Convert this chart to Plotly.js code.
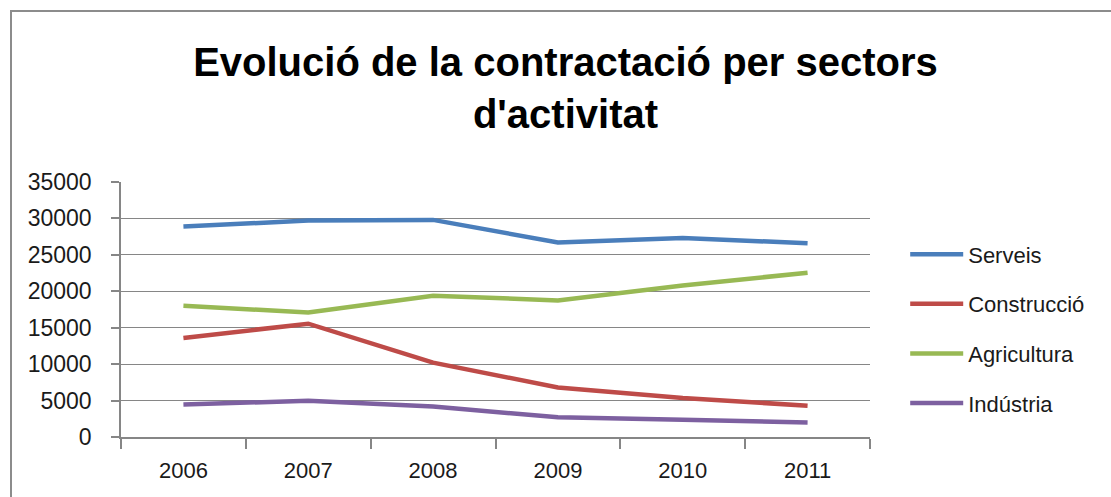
<!DOCTYPE html>
<html>
<head>
<meta charset="utf-8">
<script src="https://cdn.plot.ly/plotly-3.0.1.min.js"></script>
<style>
  html, body { margin: 0; padding: 0; background: #fff; }
  #wrap { position: relative; width: 1111px; height: 497px; overflow: hidden; }
  #chart { position: absolute; left: 0; top: 0; width: 1111px; height: 497px; }
  #frame { position: absolute; left: 10px; top: 10px; width: 1200px; height: 600px;
           border-top: 2.5px solid #8c8c8c; border-left: 2.5px solid #8c8c8c; pointer-events: none; }
</style>
</head>
<body>
<div id="wrap">
  <div id="chart"></div>
  <div id="frame"></div>
</div>
<script>
const years = ['2006', '2007', '2008', '2009', '2010', '2011'];
const serveis = [28900, 29700, 29800, 26700, 27300, 26600];
const construccio = [13600, 15550, 10200, 6800, 5350, 4300];
const agricultura = [18000, 17100, 19400, 18750, 20800, 22550];
const industria = [4450, 4980, 4200, 2700, 2370, 2000];

const seriesNames = ['Serveis', 'Construcció', 'Agricultura', 'Indústria'];
const seriesValues = [serveis, construccio, agricultura, industria];
const seriesColors = ['#4a7ebb', '#be4b48', '#98b954', '#7d60a0'];

const FONT = 'Liberation Sans, Arial, sans-serif';

const traces = seriesNames.map((name, i) => ({
  type: 'scatter',
  mode: 'lines',
  name: name,
  legendgroup: 'g' + i,
  x: years,
  y: seriesValues[i],
  line: { color: seriesColors[i], width: 4.5 },
  hoverinfo: 'x+y+name'
}));

const layout = {
  width: 1111,
  height: 497,
  margin: { l: 121, r: 241, t: 182, b: 60 },
  paper_bgcolor: '#ffffff',
  plot_bgcolor: '#ffffff',
  font: { family: FONT, size: 22, color: '#1a1a1a' },
  title: {
    text: 'Evolució de la contractació per sectors<br>d\'activitat',
    font: { family: FONT, size: 40, color: '#000000', weight: 'bold' },
    x: 0.509, xref: 'container', xanchor: 'center',
    y: 0.847, yref: 'container', yanchor: 'top'
  },
  xaxis: {
    type: 'category',
    range: [-0.5, 5.5],
    showgrid: false,
    showline: true, linecolor: '#868686', linewidth: 1.5,
    ticks: 'outside', ticklen: 10, tickcolor: '#868686', tickwidth: 1.5,
    tickson: 'boundaries',
    tickfont: { family: FONT, size: 22, color: '#1a1a1a' },
    ticklabelstandoff: 13,
    zeroline: false,
    fixedrange: true
  },
  yaxis: {
    range: [0, 35000],
    dtick: 5000,
    tick0: 0,
    tickformat: 'd',
    showgrid: true, gridcolor: '#868686', gridwidth: 1.2,
    showline: true, linecolor: '#868686', linewidth: 1.5,
    ticks: 'outside', ticklen: 8, tickcolor: '#868686', tickwidth: 1.5,
    tickfont: { family: FONT, size: 23, color: '#1a1a1a' },
    ticklabelstandoff: 15,
    zeroline: false,
    fixedrange: true
  },
  showlegend: true,
  legend: {
    x: 1.047, xanchor: 'left',
    y: 0.424, yanchor: 'middle',
    font: { family: FONT, size: 22, color: '#1a1a1a' },
    itemwidth: 53,
    tracegroupgap: 18,
    bgcolor: 'rgba(0,0,0,0)'
  },
  hovermode: 'closest'
};

Plotly.newPlot('chart', traces, layout, { displayModeBar: false, responsive: false });
</script>
</body>
</html>
